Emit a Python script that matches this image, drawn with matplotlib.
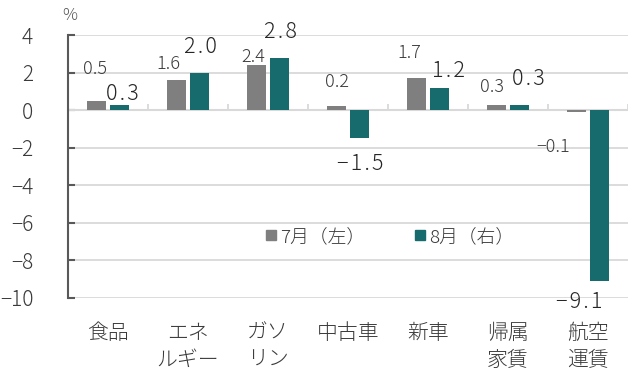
import matplotlib
matplotlib.use("Agg")
import matplotlib.pyplot as plt
import numpy as np
from matplotlib.lines import Line2D

plt.rcParams['font.family'] = ['Noto Sans CJK JP', 'DejaVu Sans']
plt.rcParams['font.weight'] = 'light'

categories = ["食品", "エネ\nルギー", "ガソ\nリン", "中古車", "新車", "帰属\n家賃", "航空\n運賃"]
july = [0.5, 1.6, 2.4, 0.2, 1.7, 0.3, -0.1]
august = [0.3, 2.0, 2.8, -1.5, 1.2, 0.3, -9.1]
series_names = ["7月（左）", "8月（右）"]
yticks = [4, 2, 0, -2, -4, -6, -8, -10]

# label offsets from bar end (pixels) - layout only
july_dx = [-1.5, -8.5, -3.5, 0.5, -7.5, -4.5, -23.5]
july_dy = [31.6, 15.9, 7.9, 24.2, 25, 17.4, -35]
aug_dx = [2.5, 0.5, 0.5, 0.5, 8.5, 8.5, -20.5]
aug_dy = [10.4, 25.4, 25.4, -25.8, 16.4, 25.4, -20.9]

gray = "#7f7f7f"
teal = "#176b6d"
text_col = "#3a3a3a"

fig = plt.figure(figsize=(6.4, 3.75), dpi=100)
ax = fig.add_axes([68/640, 1-298/375, 560/640, 263/375])

x = np.arange(len(categories))
w = 0.24
off = 0.144
ax.bar(x - off, july, w, color=gray, zorder=3)
ax.bar(x + off, august, w, color=teal, zorder=3)

ax.set_xlim(-0.5, len(categories) - 0.5)
ax.set_ylim(-10, 4)
ax.set_yticks(yticks)
ax.set_yticklabels([str(v).replace('-', '−') for v in yticks], fontsize=15, color=text_col)
ax.yaxis.grid(True, color="#d9d9d9", lw=1.3, zorder=0)
ax.tick_params(axis='y', direction='in', length=5, width=1.5, color="#595959", pad=25)

for s in ['top', 'right', 'bottom']:
    ax.spines[s].set_visible(False)
ax.spines['left'].set_color("#595959")
ax.spines['left'].set_linewidth(1.5)

ax.set_xticks(x)
ax.set_xticklabels(categories, fontsize=15, color=text_col, linespacing=1.3)
ax.tick_params(axis='x', length=0, pad=17)

# zero axis with upward ticks at category boundaries
ax.axhline(0, color="#d9d9d9", lw=1.5, zorder=2)
ax.vlines(np.arange(len(categories)) + 0.5, 0, 0.35, color="#d9d9d9", lw=1.3, zorder=2)

def fmt(v, spaced=False):
    s = f"{v:.1f}".replace('-', '−')
    if spaced:
        s = "\u200a".join(s)
    return s

for i in range(len(categories)):
    ax.annotate(fmt(july[i]), (x[i] - off, july[i]), xytext=(july_dx[i], july_dy[i]),
                textcoords='offset pixels', ha='center', va='center',
                fontsize=13, color=text_col, zorder=5)
    ax.annotate(fmt(august[i], True), (x[i] + off, august[i]), xytext=(aug_dx[i], aug_dy[i]),
                textcoords='offset pixels', ha='center', va='center',
                fontsize=15.5, color="#262626", zorder=5)

fig.text(70/640, 1-16/375, "%", fontsize=12, color="#555555", ha='center', va='center')

handles = [Line2D([], [], marker='s', ls='none', color=gray, markersize=7),
           Line2D([], [], marker='s', ls='none', color=teal, markersize=7)]
ax.legend(handles, series_names, loc='center', bbox_to_anchor=(0.575, 0.232), ncol=2,
          frameon=False, fontsize=13.5, handlelength=0.6, handletextpad=0.2,
          columnspacing=2.6, labelcolor=text_col)

fig.savefig("out.png", dpi=100)
